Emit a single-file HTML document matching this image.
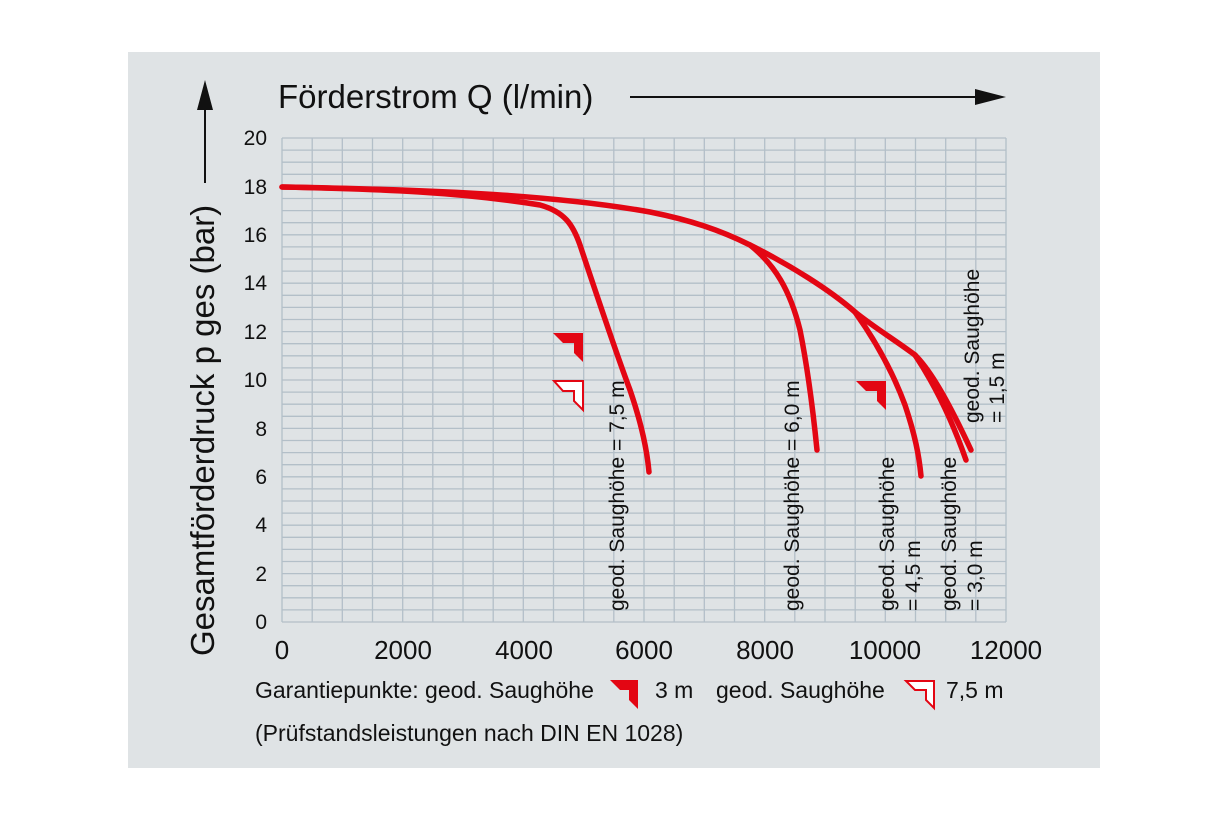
<!DOCTYPE html>
<html><head><meta charset="utf-8"><style>
body{margin:0;background:#fff;}
svg{display:block;font-family:"Liberation Sans",sans-serif;}
</style></head><body>
<svg width="1228" height="818" viewBox="0 0 1228 818" xmlns="http://www.w3.org/2000/svg">
<rect x="128" y="52" width="972" height="716" fill="#dfe3e5"/>
<g stroke="#b3bfc8" stroke-width="1.3">
<line x1="282" y1="138" x2="282" y2="622"/><line x1="312.2" y1="138" x2="312.2" y2="622"/><line x1="342.3" y1="138" x2="342.3" y2="622"/><line x1="372.5" y1="138" x2="372.5" y2="622"/><line x1="402.7" y1="138" x2="402.7" y2="622"/><line x1="432.8" y1="138" x2="432.8" y2="622"/><line x1="463" y1="138" x2="463" y2="622"/><line x1="493.2" y1="138" x2="493.2" y2="622"/><line x1="523.3" y1="138" x2="523.3" y2="622"/><line x1="553.5" y1="138" x2="553.5" y2="622"/><line x1="583.7" y1="138" x2="583.7" y2="622"/><line x1="613.8" y1="138" x2="613.8" y2="622"/><line x1="644" y1="138" x2="644" y2="622"/><line x1="674.2" y1="138" x2="674.2" y2="622"/><line x1="704.3" y1="138" x2="704.3" y2="622"/><line x1="734.5" y1="138" x2="734.5" y2="622"/><line x1="764.7" y1="138" x2="764.7" y2="622"/><line x1="794.8" y1="138" x2="794.8" y2="622"/><line x1="825" y1="138" x2="825" y2="622"/><line x1="855.2" y1="138" x2="855.2" y2="622"/><line x1="885.3" y1="138" x2="885.3" y2="622"/><line x1="915.5" y1="138" x2="915.5" y2="622"/><line x1="945.7" y1="138" x2="945.7" y2="622"/><line x1="975.8" y1="138" x2="975.8" y2="622"/><line x1="1006" y1="138" x2="1006" y2="622"/>
<line x1="282" y1="138" x2="1006" y2="138"/><line x1="282" y1="150.1" x2="1006" y2="150.1"/><line x1="282" y1="162.2" x2="1006" y2="162.2"/><line x1="282" y1="174.3" x2="1006" y2="174.3"/><line x1="282" y1="186.4" x2="1006" y2="186.4"/><line x1="282" y1="198.5" x2="1006" y2="198.5"/><line x1="282" y1="210.6" x2="1006" y2="210.6"/><line x1="282" y1="222.7" x2="1006" y2="222.7"/><line x1="282" y1="234.8" x2="1006" y2="234.8"/><line x1="282" y1="246.9" x2="1006" y2="246.9"/><line x1="282" y1="259" x2="1006" y2="259"/><line x1="282" y1="271.1" x2="1006" y2="271.1"/><line x1="282" y1="283.2" x2="1006" y2="283.2"/><line x1="282" y1="295.3" x2="1006" y2="295.3"/><line x1="282" y1="307.4" x2="1006" y2="307.4"/><line x1="282" y1="319.5" x2="1006" y2="319.5"/><line x1="282" y1="331.6" x2="1006" y2="331.6"/><line x1="282" y1="343.7" x2="1006" y2="343.7"/><line x1="282" y1="355.8" x2="1006" y2="355.8"/><line x1="282" y1="367.9" x2="1006" y2="367.9"/><line x1="282" y1="380" x2="1006" y2="380"/><line x1="282" y1="392.1" x2="1006" y2="392.1"/><line x1="282" y1="404.2" x2="1006" y2="404.2"/><line x1="282" y1="416.3" x2="1006" y2="416.3"/><line x1="282" y1="428.4" x2="1006" y2="428.4"/><line x1="282" y1="440.5" x2="1006" y2="440.5"/><line x1="282" y1="452.6" x2="1006" y2="452.6"/><line x1="282" y1="464.7" x2="1006" y2="464.7"/><line x1="282" y1="476.8" x2="1006" y2="476.8"/><line x1="282" y1="488.9" x2="1006" y2="488.9"/><line x1="282" y1="501" x2="1006" y2="501"/><line x1="282" y1="513.1" x2="1006" y2="513.1"/><line x1="282" y1="525.2" x2="1006" y2="525.2"/><line x1="282" y1="537.3" x2="1006" y2="537.3"/><line x1="282" y1="549.4" x2="1006" y2="549.4"/><line x1="282" y1="561.5" x2="1006" y2="561.5"/><line x1="282" y1="573.6" x2="1006" y2="573.6"/><line x1="282" y1="585.7" x2="1006" y2="585.7"/><line x1="282" y1="597.8" x2="1006" y2="597.8"/><line x1="282" y1="609.9" x2="1006" y2="609.9"/><line x1="282" y1="622" x2="1006" y2="622"/>
</g>
<g font-size="21" fill="#111" text-anchor="end">
<text x="267" y="145">20</text><text x="267" y="194">18</text><text x="267" y="242">16</text><text x="267" y="290">14</text><text x="267" y="339">12</text><text x="267" y="387">10</text><text x="267" y="436">8</text><text x="267" y="484">6</text><text x="267" y="532">4</text><text x="267" y="581">2</text><text x="267" y="629">0</text>
</g>
<g font-size="26" fill="#111" text-anchor="middle">
<text x="282" y="659">0</text><text x="403" y="659">2000</text><text x="524" y="659">4000</text><text x="644" y="659">6000</text><text x="765" y="659">8000</text><text x="885" y="659">10000</text><text x="1006" y="659">12000</text>
</g>
<text x="278" y="108" font-size="33" fill="#111">Förderstrom Q (l/min)</text>
<line x1="630" y1="97" x2="980" y2="97" stroke="#111" stroke-width="2"/>
<polygon points="975,89 1006,97 975,105" fill="#111"/>
<text transform="translate(214,656) rotate(-90)" font-size="33" fill="#111">Gesamtförderdruck p ges (bar)</text>
<line x1="205" y1="183" x2="205" y2="105" stroke="#111" stroke-width="2"/>
<polygon points="197,110 205,80 213,110" fill="#111"/>
<g fill="none" stroke="#e30613" stroke-width="5.5" stroke-linecap="round" stroke-linejoin="round">
<path d="M282,187 C380,189 460,192 540,205 C565,212 573,225 580,245 C595,290 615,350 630,390 C642,425 647,450 649,472"/>
<path d="M282,187 C450,190 560,196 650,212 C690,220 720,230 750,245 C790,265 830,290 855,312 C875,328 895,340 915,355"/>
<path d="M750,245 C775,265 790,290 800,330 C808,370 813,410 817,450"/>
<path d="M855,312 C875,340 892,370 905,405 C915,435 919,455 921,476"/>
<path d="M915,355 C935,385 952,420 966,460"/>
<path d="M915,355 C932,372 950,405 971,450"/>
</g>
<g font-size="21" fill="#111">
<text transform="translate(624,611) rotate(-90)">geod. Saughöhe = 7,5 m</text>
<text transform="translate(799,611) rotate(-90)">geod. Saughöhe = 6,0 m</text>
<text transform="translate(894,611) rotate(-90)">geod. Saughöhe</text>
<text transform="translate(920,611) rotate(-90)">= 4,5 m</text>
<text transform="translate(956,611) rotate(-90)">geod. Saughöhe</text>
<text transform="translate(982,611) rotate(-90)">= 3,0 m</text>
<text transform="translate(979,423) rotate(-90)">geod. Saughöhe</text>
<text transform="translate(1004,423) rotate(-90)">= 1,5 m</text>
</g>
<g>
<polygon points="553,333 583,333 583,362 574,353 574,343 563,343" fill="#e30613"/>
<polygon points="856,381 886,381 886,410 877,401 877,391 866,391" fill="#e30613"/>
<polygon points="610,680 638,680 638,709 629,700 629,690 620,690" fill="#e30613"/>
<polygon points="554,381 583,381 583,410 574,401 574,391 563,391" fill="#fff" stroke="#e30613" stroke-width="2"/>
<polygon points="906,681 934,681 934,708 926,700 926,690 915,690" fill="#fff" stroke="#e30613" stroke-width="2"/>
</g>
<g font-size="23" fill="#111">
<text x="255" y="698">Garantiepunkte: geod. Saughöhe</text>
<text x="655" y="698">3 m</text>
<text x="716" y="698">geod. Saughöhe</text>
<text x="946" y="698">7,5 m</text>
<text x="255" y="741">(Prüfstandsleistungen nach DIN EN 1028)</text>
</g>
</svg>
</body></html>
